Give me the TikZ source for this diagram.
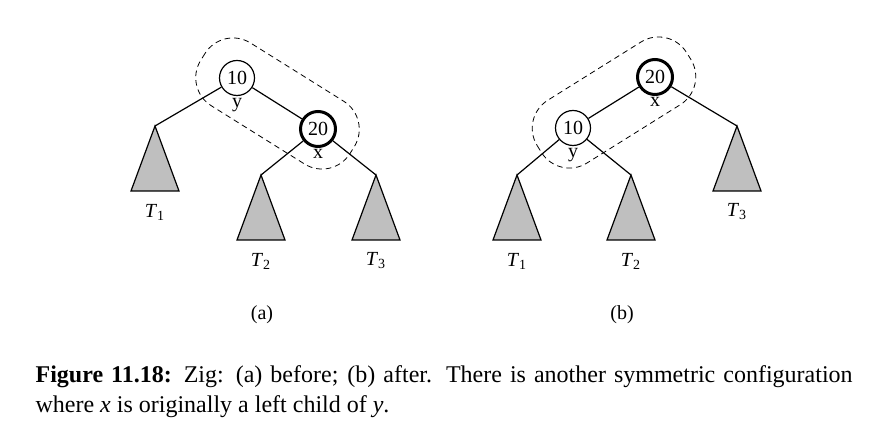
\documentclass[tikz,border=0pt]{standalone}
\usepackage{fontspec}
\setmainfont{Liberation Serif}
\usetikzlibrary{positioning, calc}

\newcommand{\tsub}[1]{\textit{T}\textsubscript{#1}}

\begin{document}
\begin{tikzpicture}[x=0.5pt, y=-0.5pt, line width=0.6pt,
    keynode/.style={draw, circle, fill=white, minimum size=17.5pt, inner sep=0pt, font=\fontsize{10}{12}\selectfont},
    pivot/.style={keynode, line width=1.5pt},
    tag/.style={inner sep=0.5pt, font=\fontsize{10}{12}\selectfont},
    subtree/.style={draw, fill=gray!50, line join=miter},
    group/.style={draw, dash pattern=on 2.8pt off 2pt, line width=0.4pt, rounded corners=16.5pt}]
    \useasboundingbox (0,0) rectangle (887,432);

    % (a) before the rotation
    \node[keynode] (ya) at (237,78) {10};
    \node[pivot] (xa) at (318,129) {20};
    \node[tag, below=0.5pt of ya] (ylaba) {y};
    \node[tag, below=0pt of xa] (xlaba) {x};

    \coordinate (t1a) at (155,126);
    \coordinate (t2a) at (261,175);
    \coordinate (t3a) at (376,175);

    \draw (ya) -- (t1a);
    \draw (ya) -- (xa);
    \draw (xa) -- (t2a);
    \draw (xa) -- (t3a);

    \draw[subtree] (t1a) -- ++(-24,65) -- ++(48,0) -- cycle;
    \draw[subtree] (t2a) -- ++(-24,65) -- ++(48,0) -- cycle;
    \draw[subtree] (t3a) -- ++(-24,65) -- ++(48,0) -- cycle;
    \node[tag] (t1laba) at ($(t1a)+(0,86)$) {\tsub{1}};
    \node[tag] (t2laba) at ($(t2a)+(0,86)$) {\tsub{2}};
    \node[tag] (t3laba) at ($(t3a)+(0,86)$) {\tsub{3}};

    % dashed group round the two keys
    \begin{scope}[shift={($(ya)!0.5!(xa)$)}, rotate=-32]
        \draw[group] (-88,-37) rectangle (88,37);
    \end{scope}

    \node[tag] (capa) at (262,315) {(a)};

    % (b) after the rotation
    \node[pivot] (xb) at (655,77) {20};
    \node[keynode] (yb) at (573,128) {10};
    \node[tag, below=0pt of xb] (xlabb) {x};
    \node[tag, below=0.5pt of yb] (ylabb) {y};

    \coordinate (t1b) at (517,175);
    \coordinate (t2b) at (631,175);
    \coordinate (t3b) at (737,126);

    \draw (xb) -- (yb);
    \draw (xb) -- (t3b);
    \draw (yb) -- (t1b);
    \draw (yb) -- (t2b);

    \draw[subtree] (t1b) -- ++(-24,65) -- ++(48,0) -- cycle;
    \draw[subtree] (t2b) -- ++(-24,65) -- ++(48,0) -- cycle;
    \draw[subtree] (t3b) -- ++(-24,65) -- ++(48,0) -- cycle;
    \node[tag] (t1labb) at ($(t1b)+(0,86)$) {\tsub{1}};
    \node[tag] (t2labb) at ($(t2b)+(0,86)$) {\tsub{2}};
    \node[tag] (t3labb) at ($(t3b)+(0,86)$) {\tsub{3}};

    % dashed group round the two keys
    \begin{scope}[shift={($(yb)!0.5!(xb)$)}, rotate=32]
        \draw[group] (-88,-37) rectangle (88,37);
    \end{scope}

    \node[tag] (capb) at (622,315) {(b)};

    % caption
    \node[anchor=north west, inner sep=0pt, text width=408.5pt, align=justify,
        font=\fontsize{12}{15}\selectfont] (caption) at (35,365)
        {\textbf{Figure 11.18:} Zig: (a) before; (b) after.  There is another symmetric configuration where \textit{x} is originally a left child of \textit{y}.};

\end{tikzpicture}
\end{document}
